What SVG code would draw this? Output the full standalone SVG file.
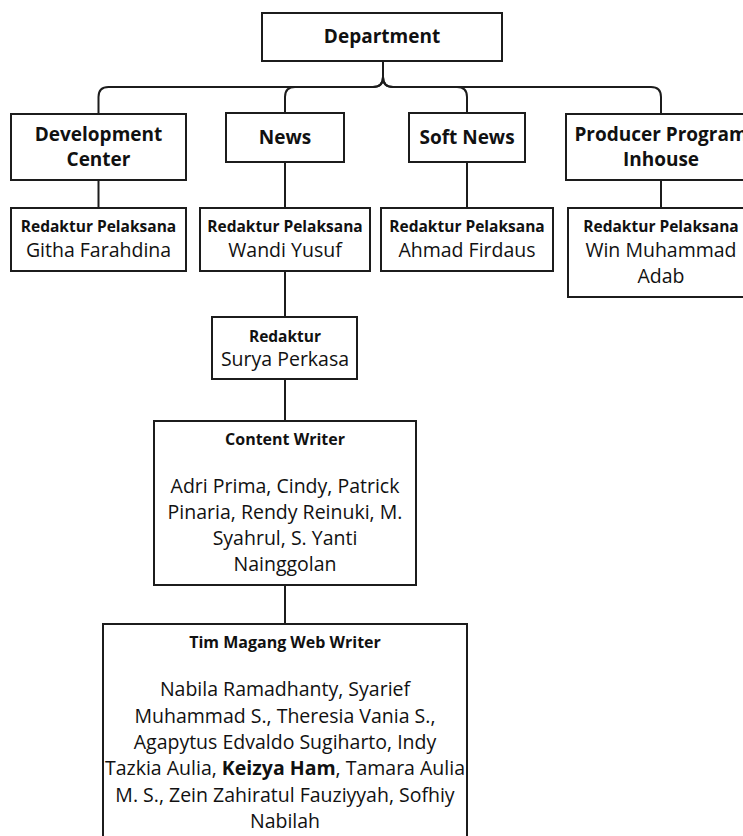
<svg xmlns="http://www.w3.org/2000/svg" width="743" height="836" viewBox="0 0 743 836">
<style>
.box{fill:#fff;stroke:#1c1c1c;stroke-width:2}
.con{fill:none;stroke:#1c1c1c;stroke-width:2}
text{font-family:"Open Sans","Liberation Sans",sans-serif;fill:#111;text-anchor:middle}
.h{font-weight:700;font-size:19px}
.rp{font-weight:700;font-size:15.5px}
.nm{font-size:19.5px}
.t{font-weight:700;font-size:16px}
.b{font-weight:700}
</style>
<rect width="743" height="836" fill="#fff"/>
<g id="connectors">
<path class="con" d="M383,61 V77 Q383,87 373,87 H108.5 Q98.5,87 98.5,97 V114"/>
<path class="con" d="M383,61 V77 Q383,87 373,87 H295 Q285,87 285,97 V113"/>
<path class="con" d="M383,61 V77 Q383,87 393,87 H457 Q467,87 467,97 V113"/>
<path class="con" d="M383,61 V77 Q383,87 393,87 H651 Q661,87 661,97 V114"/>
<path class="con" d="M98.5,180 V208"/>
<path class="con" d="M285,162 V208"/>
<path class="con" d="M467,162 V208"/>
<path class="con" d="M661,180 V208"/>
<path class="con" d="M285,271 V317"/>
<path class="con" d="M285,379 V421"/>
<path class="con" d="M285,585 V624"/>
</g>
<g id="department">
<rect class="box" x="262" y="13" width="240" height="48"/>
<text class="h" x="382" y="43">Department</text>
</g>
<g id="development-center">
<rect class="box" x="11" y="114" width="175" height="66"/>
<text class="h" x="98.5" y="141">Development</text>
<text class="h" x="98.5" y="166">Center</text>
</g>
<g id="news">
<rect class="box" x="226" y="113" width="118" height="49"/>
<text class="h" x="285" y="144">News</text>
</g>
<g id="soft-news">
<rect class="box" x="409" y="113" width="116" height="49"/>
<text class="h" x="467" y="144">Soft News</text>
</g>
<g id="producer-program">
<rect class="box" x="566" y="114" width="190" height="66"/>
<text class="h" x="661" y="141">Producer Program</text>
<text class="h" x="661" y="166">Inhouse</text>
</g>
<g id="rp-githa">
<rect class="box" x="11" y="208" width="175" height="63"/>
<text class="rp" x="98.5" y="232">Redaktur Pelaksana</text>
<text class="nm" x="98.5" y="257">Githa Farahdina</text>
</g>
<g id="rp-wandi">
<rect class="box" x="200" y="208" width="170" height="63"/>
<text class="rp" x="285" y="232">Redaktur Pelaksana</text>
<text class="nm" x="285" y="257">Wandi Yusuf</text>
</g>
<g id="rp-ahmad">
<rect class="box" x="381" y="208" width="172" height="63"/>
<text class="rp" x="467" y="232">Redaktur Pelaksana</text>
<text class="nm" x="467" y="257">Ahmad Firdaus</text>
</g>
<g id="rp-win">
<rect class="box" x="568" y="208" width="186" height="89"/>
<text class="rp" x="661" y="232">Redaktur Pelaksana</text>
<text class="nm" x="661" y="257">Win Muhammad</text>
<text class="nm" x="661" y="283">Adab</text>
</g>
<g id="redaktur">
<rect class="box" x="212" y="317" width="145" height="62"/>
<text class="rp" x="285" y="342">Redaktur</text>
<text class="nm" x="285" y="366">Surya Perkasa</text>
</g>
<g id="content-writer">
<rect class="box" x="154" y="421" width="262" height="164"/>
<text class="t" x="285" y="445">Content Writer</text>
<text class="nm" x="285" y="493">Adri Prima, Cindy, Patrick</text>
<text class="nm" x="285" y="519">Pinaria, Rendy Reinuki, M.</text>
<text class="nm" x="285" y="545">Syahrul, S. Yanti</text>
<text class="nm" x="285" y="571">Nainggolan</text>
</g>
<g id="tim-magang">
<rect class="box" x="103" y="624" width="364" height="230"/>
<text class="t" x="285" y="648">Tim Magang Web Writer</text>
<text class="nm" x="285" y="696">Nabila Ramadhanty, Syarief</text>
<text class="nm" x="285" y="722.5">Muhammad S., Theresia Vania S.,</text>
<text class="nm" x="285" y="749">Agapytus Edvaldo Sugiharto, Indy</text>
<text class="nm" x="285" y="775">Tazkia Aulia, <tspan class="b">Keizya Ham</tspan>, Tamara Aulia</text>
<text class="nm" x="285" y="801.5">M. S., Zein Zahiratul Fauziyyah, Sofhiy</text>
<text class="nm" x="285" y="827.5">Nabilah</text>
</g>
</svg>
